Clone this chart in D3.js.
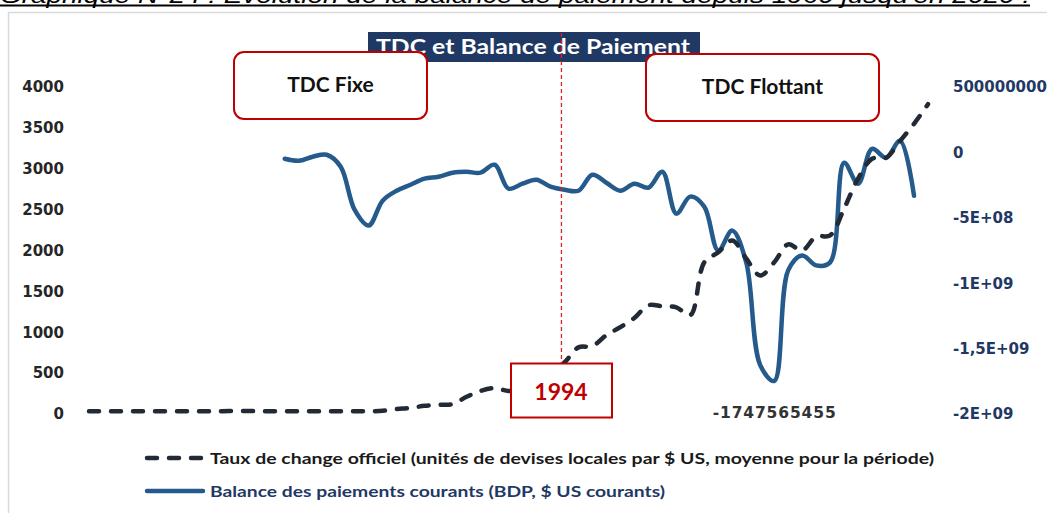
<!DOCTYPE html>
<head>
  <meta charset="utf-8">
  <script src="https://d3js.org/d3.v7.min.js"></script>
  <style>
    body{ margin: 0; background: #ffffff; }
    text{ font-family: Lato, "Open Sans", sans-serif; }
    .tick text{
      font-family: "DejaVu Sans", Verdana, sans-serif;
      font-weight: 700;
      font-size: 15px;
    }
    .yLeft .tick text{ fill: #262626; }
    .yRight .tick text{ fill: #1f3864; }
    path.domain{ display: none; }
  </style>
</head>

<body>
  <script>
    // ---- data ----
    const years = d3.range(1960, 2021);

    // Taux de change officiel (left axis)
    const tauxChange = [
      34, 34, 35, 35, 34, 35, 35, 35, 35, 34,
      36, 36, 35, 35, 34, 33, 34, 35, 34, 33,
      33, 40, 60, 75, 100, 112, 120, 210, 282, 318,
      282, 300, 380, 500, 630, 815, 830, 965, 1062, 1175,
      1330, 1318, 1305, 1210, 1855, 1978, 2122, 1902, 1695, 1855,
      2075, 2000, 2170, 2185, 2512, 2880, 3122, 3135, 3340, 3550,
      3790
    ];

    // Balance des paiements courants (right axis), 1974-2019
    const balanceYears = d3.range(1974, 2020);
    const balance = [
      -49e6, -64e6, -33e6, -18e6, -110e6, -440e6, -559e6, -369e6, -293e6, -247e6,
      -201e6, -186e6, -155e6, -148e6, -155e6, -94e6, -277e6, -239e6, -209e6, -262e6,
      -285e6, -293e6, -171e6, -232e6, -293e6, -239e6, -270e6, -148e6, -468e6, -338e6,
      -415e6, -750e6, -598e6, -841e6, -1626e6, -1747565455, -902e6, -788e6, -864e6, -841e6,
      -79e6, -239e6, 27e6, -41e6, 88e6, -331e6
    ];

    const leftTicks = [0, 500, 1000, 1500, 2000, 2500, 3000, 3500, 4000];
    const rightTicks = [5e8, 0, -5e8, -1e9, -1.5e9, -2e9];
    const rightTickLabels = ["500000000", "0", "-5E+08", "-1E+09", "-1,5E+09", "-2E+09"];

    const markYear = 1994;
    const minLabel = "-1747565455";

    const width = 1047, height = 513;

    const svg = d3.select("body").append("svg")
      .attr("width", width)
      .attr("height", height);

    // caption above the frame (cut off at the top, as in the source)
    svg.append("text")
      .attr("x", 0)
      .attr("y", 3)
      .style("font-family", "Liberation Sans, Arial, sans-serif")
      .style("font-style", "italic")
      .style("font-size", "22px")
      .attr("textLength", 1030)
      .attr("lengthAdjust", "spacingAndGlyphs")
      .text("Graphique N°24 : Evolution de la balance de paiement depuis 1960 jusqu'en 2020 :");
    svg.append("line")
      .attr("x1", 0).attr("x2", 1030)
      .attr("y1", 5.5).attr("y2", 5.5)
      .attr("stroke", "#000").attr("stroke-width", 2);

    // chart frame
    svg.append("rect")
      .attr("x", 8.5).attr("y", 12.5)
      .attr("width", 1100).attr("height", 600)
      .attr("fill", "#ffffff")
      .attr("stroke", "#d9d9d9")
      .attr("stroke-width", 1.5);

    // scales
    const x = d3.scaleLinear().domain([1960, 2020]).range([89, 928]);
    const yL = d3.scaleLinear().domain([0, 4000]).range([414, 87]);
    const yR = d3.scaleLinear().domain([-2e9, 5e8]).range([414, 87]);

    // axes
    svg.append("g")
      .attr("class", "yLeft")
      .attr("transform", "translate(70,0)")
      .call(d3.axisLeft(yL).tickValues(leftTicks).tickSize(0).tickPadding(6).tickFormat(d3.format("d")));

    svg.append("g")
      .attr("class", "yRight")
      .attr("transform", "translate(945,0)")
      .call(d3.axisRight(yR).tickValues(rightTicks).tickSize(0).tickPadding(8)
        .tickFormat((d, i) => rightTickLabels[i]));

    // title box
    svg.append("rect")
      .attr("x", 368).attr("y", 32)
      .attr("width", 332).attr("height", 30)
      .attr("fill", "#1f3864");
    svg.append("text")
      .attr("x", 533).attr("y", 54)
      .attr("text-anchor", "middle")
      .style("font-size", "20px")
      .style("font-weight", 700)
      .style("fill", "#ffffff")
      .attr("textLength", 314)
      .attr("lengthAdjust", "spacingAndGlyphs")
      .text("TDC et Balance de Paiement");

    // lines
    const balData = balanceYears.map((yr, i) => ({year: yr, value: balance[i]}));
    const tauxData = years.map((yr, i) => ({year: yr, value: tauxChange[i]}));

    svg.append("path")
      .datum(balData)
      .attr("fill", "none")
      .attr("stroke", "#255a8c")
      .attr("stroke-width", 4.5)
      .attr("stroke-linejoin", "round")
      .attr("stroke-linecap", "round")
      .attr("d", d3.line().curve(d3.curveCatmullRom.alpha(0.5))
        .x(d => x(d.year)).y(d => yR(d.value)));

    svg.append("path")
      .datum(tauxData)
      .attr("fill", "none")
      .attr("stroke", "#222a36")
      .attr("stroke-width", 4.5)
      .attr("stroke-linecap", "round")
      .attr("stroke-dasharray", "10,12")
      .attr("d", d3.line().curve(d3.curveCatmullRom.alpha(0.5))
        .x(d => x(d.year)).y(d => yL(d.value)));

    // min label
    const minPt = balData.find(d => d.value === d3.min(balance));
    svg.append("text")
      .attr("x", x(minPt.year))
      .attr("y", 418)
      .attr("text-anchor", "middle")
      .style("font-family", "DejaVu Sans, Verdana, sans-serif")
      .style("font-weight", 700)
      .style("font-size", "15.5px")
      .style("fill", "#333333")
      .attr("textLength", 123)
      .text(minLabel);

    // 1994 marker
    svg.append("line")
      .attr("x1", x(markYear) - 3).attr("x2", x(markYear) - 3)
      .attr("y1", 33).attr("y2", 363)
      .attr("stroke", "#e02020")
      .attr("stroke-width", 1.3)
      .attr("stroke-dasharray", "4,3");

    svg.append("rect")
      .attr("x", 511).attr("y", 363.5)
      .attr("width", 101).attr("height", 54)
      .attr("fill", "#ffffff")
      .attr("stroke", "#c00000")
      .attr("stroke-width", 2);
    svg.append("text")
      .attr("x", 561).attr("y", 400)
      .attr("text-anchor", "middle")
      .style("font-size", "23px")
      .style("font-weight", 700)
      .style("fill", "#c00000")
      .text(markYear);

    // regime boxes
    const boxes = [
      {label: "TDC Fixe", x: 234, y: 52, w: 193, h: 67, ty: 92},
      {label: "TDC Flottant", x: 646, y: 54, w: 233, h: 67, ty: 94}
    ];
    boxes.forEach(b => {
      svg.append("rect")
        .attr("x", b.x).attr("y", b.y)
        .attr("width", b.w).attr("height", b.h)
        .attr("rx", 10).attr("ry", 10)
        .attr("fill", "#ffffff")
        .attr("stroke", "#c00000")
        .attr("stroke-width", 2);
      svg.append("text")
        .attr("x", b.x + b.w / 2)
        .attr("y", b.ty)
        .attr("text-anchor", "middle")
        .style("font-size", "21px")
        .style("font-weight", 700)
        .style("fill", "#111111")
        .text(b.label);
    });

    // legend
    const legend = svg.append("g");
    legend.append("line")
      .attr("x1", 147).attr("x2", 205)
      .attr("y1", 458).attr("y2", 458)
      .attr("stroke", "#222a36").attr("stroke-width", 4.5)
      .attr("stroke-linecap", "round")
      .attr("stroke-dasharray", "10,12");
    legend.append("text")
      .attr("x", 210).attr("y", 464)
      .style("font-size", "16px").style("font-weight", 700)
      .style("fill", "#1a1a1a")
      .attr("textLength", 724)
      .attr("lengthAdjust", "spacingAndGlyphs")
      .text("Taux de change officiel (unités de devises locales par $ US, moyenne pour la période)");

    legend.append("line")
      .attr("x1", 147).attr("x2", 203)
      .attr("y1", 491).attr("y2", 491)
      .attr("stroke", "#255a8c").attr("stroke-width", 4.5)
      .attr("stroke-linecap", "round");
    legend.append("text")
      .attr("x", 210).attr("y", 497)
      .style("font-size", "16px").style("font-weight", 700)
      .style("fill", "#1f3864")
      .attr("textLength", 455)
      .attr("lengthAdjust", "spacingAndGlyphs")
      .text("Balance des paiements courants (BDP, $ US courants)");
  </script>
</body>
